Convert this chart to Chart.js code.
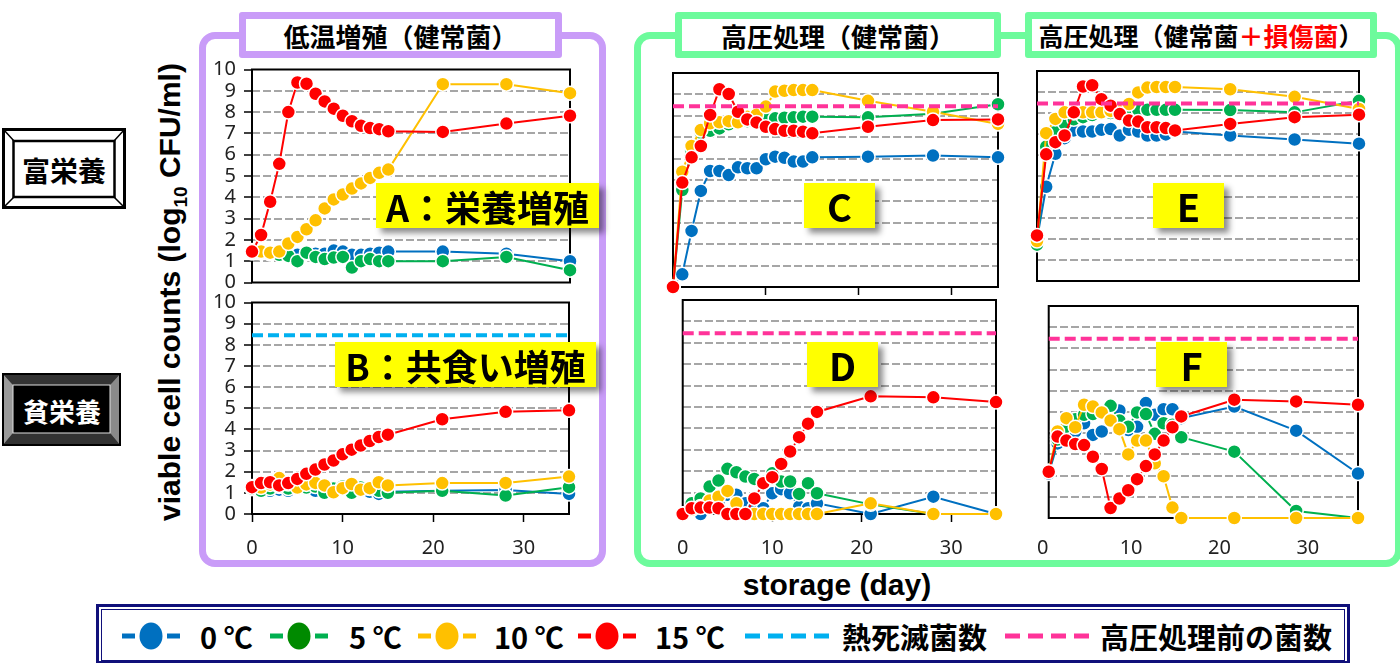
<!DOCTYPE html>
<html>
<head>
<meta charset="utf-8">
<script src="https://cdn.jsdelivr.net/npm/chart.js@4.4.1/dist/chart.umd.min.js"></script>
<style>
  body { margin: 0; width: 1400px; height: 663px; position: relative; overflow: hidden; background: #fff;
         font-family: "Noto Sans CJK JP", "Noto Sans", sans-serif; }
  .frame { position: absolute; border: 7px solid; border-radius: 16px; box-sizing: border-box; }
  .head { position: absolute; border: 7px solid; background: #fff; box-sizing: border-box; border-radius: 3px; white-space: nowrap;
          font-weight: bold; font-size: 26px; display: flex; align-items: center; justify-content: center; color: #000; }
  .tag { position: absolute; z-index: 5; background: #ffff00; box-shadow: 5px 5px 6px rgba(0,0,0,.45);
         font-weight: bold; display: flex; align-items: center; justify-content: center; color: #000; }
  canvas { position: absolute; }
  .title { position: absolute; font-family: "Liberation Sans", Arial, sans-serif; font-weight: bold; font-size: 30px;
           text-align: center; color: #000; white-space: nowrap; }
</style>
</head>
<body>

<!-- group frames and headers -->
<div class="frame" style="left:199px;top:32px;width:407px;height:535px;border-color:#c99cf8"></div>
<div class="frame" style="left:634px;top:32px;width:768px;height:535px;border-color:#6dfb9c"></div>
<div class="head" style="left:239px;top:12px;width:323px;height:46px;border-color:#c99cf8">低温増殖（健常菌）</div>
<div class="head" style="left:675px;top:12px;width:326px;height:46px;border-color:#6dfb9c">高圧処理（健常菌）</div>
<div class="head" style="left:1025px;top:12px;width:352px;height:46px;border-color:#6dfb9c;font-size:25px"><span>高圧処理（健常菌<span style="color:#ff0000">＋損傷菌</span>）</span></div>

<!-- row labels -->
<svg style="position:absolute;left:0;top:0" width="200" height="663">
  <rect x="3.5" y="129.5" width="121" height="78" fill="#fff" stroke="#000" stroke-width="3"/>
  <rect x="13.5" y="141" width="101" height="56" fill="#fff" stroke="#000" stroke-width="2.5"/>
  <path d="M4 130 L14 141 M124 130 L114 141 M4 207 L14 197 M124 207 L114 197" stroke="#000" stroke-width="1.5"/>
  <text x="64" y="170" font-size="28" font-weight="bold" text-anchor="middle" dominant-baseline="central"
        font-family="Noto Sans CJK JP">富栄養</text>

  <rect x="3" y="374" width="117" height="71" fill="#000"/>
  <polygon points="3,374 120,374 110,385 13,385" fill="#333"/>
  <polygon points="3,445 120,445 110,433 13,433" fill="#333"/>
  <polygon points="3,374 13,385 13,433 3,445" fill="#9a9a9a"/>
  <polygon points="120,374 110,385 110,433 120,445" fill="#8a8a8a"/>
  <rect x="13" y="385" width="97" height="48" fill="#000" stroke="#e0e0e0" stroke-width="1"/>
  <rect x="3" y="374" width="117" height="71" fill="none" stroke="#000" stroke-width="2"/>
  <text x="62" y="410" font-size="26" font-weight="bold" text-anchor="middle" dominant-baseline="central"
        fill="#fff" font-family="Noto Sans CJK JP">貧栄養</text>
</svg>

<!-- axis titles -->
<div class="title" style="left:-80px;top:272px;width:500px;height:40px;line-height:40px;transform:rotate(-90deg)">viable cell counts (log<sub style="font-size:19px">10</sub> CFU/ml)</div>
<div class="title" style="left:637px;top:566px;width:400px;height:38px;line-height:38px">storage (day)</div>

<!-- panel tags -->
<div class="tag" style="left:376px;top:183px;width:223px;height:45px;font-size:36px">A：栄養増殖</div>
<div class="tag" style="left:335px;top:342px;width:261px;height:45px;font-size:36px">B：共食い増殖</div>
<div class="tag" style="left:804px;top:183px;width:71px;height:45px;font-size:38px">C</div>
<div class="tag" style="left:807px;top:342px;width:71px;height:45px;font-size:38px">D</div>
<div class="tag" style="left:1153px;top:183px;width:71px;height:45px;font-size:38px">E</div>
<div class="tag" style="left:1156px;top:342px;width:71px;height:45px;font-size:38px">F</div>

<!-- legend -->
<div style="position:absolute;left:96px;top:604px;width:1254px;height:60px;border:3px solid #10107a;box-sizing:border-box"></div>
<div style="position:absolute;left:101px;top:609px;width:1244px;height:52px;border:1px solid #10107a;box-sizing:border-box"></div>
<svg style="position:absolute;left:0;top:600px" width="1400" height="63" font-family="Noto Sans CJK JP" font-weight="bold" font-size="29">
  <g id="legendItems"></g>
</svg>

<script>
// sampling days
const days = [0, 1, 2, 3, 4, 5, 6, 7, 8, 9, 10, 11, 12, 13, 14, 15, 21, 28, 35];

const tempLabels = ["0 ℃", "5 ℃", "10 ℃", "15 ℃"];
const tempColors = ["#0070c0", "#00b050", "#ffc000", "#ff0000"];
const markColors = ["#0070c0", "#008a00", "#ffc000", "#ff0000"];

// A: 富栄養 / 低温増殖
const a0c = [1.4, 1.4, 1.35, 1.35, 1.3, 1.3, 1.35, 1.35, 1.35, 1.5, 1.45, 1.3, 1.3, 1.35, 1.4, 1.45, 1.45, 1.35, 1.0];
const a5c = [1.4, 1.4, 1.35, 1.3, 1.25, 1.0, 1.4, 1.2, 1.1, 1.17, 1.2, 0.7, 1.0, 1.1, 1.0, 1.0, 1.0, 1.2, 0.58];
const a10c = [1.5, 1.45, 1.4, 1.45, 1.83, 2.14, 2.5, 2.92, 3.48, 3.9, 4.13, 4.41, 4.65, 4.91, 5.15, 5.3, 9.31, 9.31, 8.89];
const a15c = [1.45, 2.23, 3.79, 5.57, 8.0, 9.39, 9.33, 8.86, 8.5, 8.16, 7.83, 7.57, 7.36, 7.25, 7.2, 7.1, 7.07, 7.46, 7.83];

// B: 貧栄養 / 低温増殖
const b0c = [1.2, 1.05, 1.1, 1.15, 1.1, 1.2, 1.2, 1.1, 1.1, 1.15, 1.2, 1.1, 1.1, 1.05, 0.95, 1.05, 1.1, 1.14, 0.95];
const b5c = [1.2, 1.1, 1.2, 1.3, 1.2, 1.3, 1.25, 1.3, 1.0, 1.2, 1.3, 1.0, 1.25, 1.2, 1.1, 1.0, 1.1, 0.87, 1.27];
const b10c = [1.3, 1.25, 1.4, 1.7, 1.42, 1.25, 1.4, 1.47, 1.35, 1.03, 1.22, 1.42, 1.15, 1.22, 1.5, 1.35, 1.46, 1.47, 1.77];
const b15c = [1.27, 1.46, 1.5, 1.35, 1.46, 1.66, 1.9, 2.1, 2.34, 2.53, 2.82, 3.04, 3.24, 3.45, 3.64, 3.75, 4.48, 4.83, 4.9];

// C: 富栄養 / 高圧処理（健常菌）
const c0c = [0, 0.59, 2.62, 4.49, 5.42, 5.42, 5.23, 5.59, 5.55, 5.55, 5.97, 6.09, 6.04, 5.86, 5.86, 6.06, 6.09, 6.14, 6.06];
const c5c = [0, 4.53, 6.3, 7.2, 7.3, 7.41, 7.6, 7.7, 7.75, 7.8, 7.88, 7.88, 7.91, 7.93, 7.96, 7.96, 7.93, 8.1, 8.54];
const c10c = [0, 5.39, 6.59, 7.34, 7.65, 7.7, 7.75, 7.7, 7.95, 8.05, 8.43, 9.13, 9.17, 9.2, 9.2, 9.2, 8.7, 8.19, 7.62];
const c15c = [0, 4.88, 6.06, 6.59, 8.04, 9.24, 9.02, 8.19, 7.83, 7.69, 7.49, 7.38, 7.3, 7.3, 7.26, 7.18, 7.49, 7.8, 7.83];

// D: 貧栄養 / 高圧処理（健常菌）
const d0c = [0, 0.3, 0, 0.3, 0.6, 0.9, 0.9, 0.5, 0.3, 0.27, 0.97, 1.16, 0.97, 0.34, 0.27, 0.5, 0, 0.81, 0];
const d5c = [0, 0.5, 0.73, 1.28, 1.56, 2.11, 1.95, 1.75, 1.64, 1.5, 1.9, 1.52, 1.52, 0.94, 1.44, 0.97, 0.45, 0, 0];
const d10c = [0, 0.2, 0.35, 0.63, 0.81, 1.08, 0.5, 0, 0, 0, 0, 0, 0, 0, 0, 0, 0.5, 0, 0];
const d15c = [0, 0.27, 0.3, 0.3, 0.27, 0, 0, 0, 0.73, 1.44, 1.72, 2.34, 2.92, 3.59, 4.22, 4.77, 5.5, 5.45, 5.23];

// E: 富栄養 / 高圧処理（健常菌＋損傷菌）
const e0c = [2.0, 4.49, 6.06, 6.8, 7.17, 7.12, 7.12, 7.2, 7.24, 6.93, 7.2, 7.12, 6.93, 6.93, 6.98, 7.12, 6.93, 6.74, 6.54];
const e5c = [1.73, 6.4, 7.1, 7.5, 7.7, 7.8, 7.9, 8.0, 8.0, 8.0, 8.1, 8.15, 8.15, 8.15, 8.15, 8.15, 8.14, 8.03, 8.58];
const e10c = [1.9, 7.04, 7.72, 8.03, 8.0, 8.03, 8.03, 8.03, 8.1, 8.2, 8.43, 8.98, 9.21, 9.24, 9.24, 9.24, 9.13, 8.77, 8.19];
const e15c = [2.17, 6.03, 6.61, 6.93, 8.03, 9.26, 9.32, 8.66, 8.35, 7.95, 7.64, 7.59, 7.32, 7.32, 7.28, 7.17, 7.48, 7.8, 7.92];

// F: 貧栄養 / 高圧処理（健常菌＋損傷菌）
const f0c = [2.1, 3.52, 4.0, 4.08, 4.47, 3.92, 4.08, 5.1, 5.07, 4.15, 4.3, 5.42, 4.87, 5.13, 5.13, 4.71, 5.26, 4.12, 2.1];
const f5c = [2.2, 3.7, 4.31, 4.66, 4.87, 4.9, 4.98, 5.29, 4.6, 4.31, 4.98, 4.9, 3.97, 4.47, 4.4, 3.81, 3.13, 0.33, 0];
const f10c = [2.2, 4.08, 4.71, 4.28, 5.34, 5.26, 4.98, 4.6, 4.19, 3.0, 3.65, 3.65, 2.58, 1.97, 0.49, 0, 0, 0, 0];
const f15c = [2.18, 3.84, 3.65, 3.49, 3.44, 2.89, 2.31, 0.47, 0.92, 1.31, 1.83, 2.45, 3.0, 3.65, 4.28, 4.79, 5.58, 5.5, 5.34];

// reference levels (dashed lines)
const heatKillLevel = 8.45;   // 熱死滅菌数
const beforeHpLevel = 8.45;   // 高圧処理前の菌数

const panels = [
  { L: 252, T: 69, R: 570, B: 283, yLabels: true, xLabels: false, xTicks: false, series: [a0c, a5c, a10c, a15c] },
  { L: 252, T: 302, R: 569, B: 514, yLabels: true, xLabels: true, xTicks: true, series: [b0c, b5c, b10c, b15c],
    ref: { level: heatKillLevel, color: "#00b0f0" } },
  { L: 673, T: 73, R: 998, B: 287, yLabels: false, xLabels: false, xTicks: true, series: [c0c, c5c, c10c, c15c],
    ref: { level: beforeHpLevel, color: "#ff3399" } },
  { L: 677, T: 300, R: 996, B: 514, yLabels: false, xLabels: true, xTicks: true, series: [d0c, d5c, d10c, d15c],
    ref: { level: beforeHpLevel, color: "#ff3399" } },
  { L: 1037, T: 71, R: 1359, B: 281, yLabels: false, xLabels: false, xTicks: false, series: [e0c, e5c, e10c, e15c],
    ref: { level: beforeHpLevel, color: "#ff3399" } },
  { L: 1039, T: 306, R: 1358, B: 518, yLabels: false, xLabels: true, xTicks: false, series: [f0c, f5c, f10c, f15c],
    ref: { level: beforeHpLevel, color: "#ff3399" }, labelOffset: -6 },
];

// black frame round the plot area, drawn below the markers
const boxPlugin = {
  id: "box",
  beforeDatasetsDraw(chart) {
    const { ctx, chartArea: a } = chart;
    ctx.save();
    ctx.strokeStyle = "#000";
    ctx.lineWidth = 2;
    ctx.strokeRect(a.left, a.top, a.right - a.left, a.bottom - a.top);
    ctx.restore();
  },
};

const tickFont = { family: "'Noto Sans', sans-serif", size: 20 };
// small lineHeight so that all eleven y ticks fit
const yTickFont = { family: "'Noto Sans', sans-serif", size: 20, lineHeight: 0.85 };

function makePanel(p) {
  const padL = p.yLabels ? 62 : 14;
  const padT = 16, padR = 16;
  const padB = p.xLabels ? 50 : 16;
  const w = p.R - p.L + padL + padR;
  const h = p.B - p.T + padT + padB;

  const cv = document.createElement("canvas");
  cv.width = w;
  cv.height = h;
  cv.style.left = p.L - padL + "px";
  cv.style.top = p.T - padT + "px";
  cv.style.width = w + "px";
  cv.style.height = h + "px";
  document.body.appendChild(cv);

  const datasets = p.series.map((vals, k) => ({
    label: tempLabels[k],
    data: days.map((d, i) => ({ x: d, y: vals[i] })),
    borderColor: tempColors[k],
    backgroundColor: tempColors[k],
    borderWidth: 2,
    pointRadius: 7,
    pointBackgroundColor: tempColors[k],
    pointBorderColor: "#fff",
    pointBorderWidth: 1.5,
    clip: false,
    order: 4 - k,
  }));
  if (p.ref) {
    datasets.push({
      label: "ref",
      data: [{ x: 0, y: p.ref.level }, { x: 35, y: p.ref.level }],
      borderColor: p.ref.color,
      borderWidth: 4,
      borderDash: [11, 5],
      pointRadius: 0,
      clip: false,
      order: 0,
    });
  }

  new Chart(cv.getContext("2d"), {
    type: "line",
    data: { datasets },
    plugins: [boxPlugin],
    options: {
      responsive: false,
      animation: false,
      events: [],
      devicePixelRatio: 1,
      layout: { padding: { left: 0, top: padT, right: padR, bottom: 0 } },
      plugins: { legend: { display: false }, tooltip: { enabled: false } },
      scales: {
        x: {
          type: "linear",
          min: 0,
          max: 35,
          afterFit(s) { s.height = padB; },
          border: { display: false },
          grid: { drawOnChartArea: false, drawTicks: p.xTicks, tickLength: 8, tickColor: "#000", tickWidth: 1.5 },
          ticks: {
            display: p.xLabels,
            stepSize: 10,
            includeBounds: false,
            maxRotation: 0,
            padding: p.xTicks ? 14 : 18,
            labelOffset: p.labelOffset || 0,
            color: "#222",
            font: tickFont,
          },
        },
        y: {
          min: 0,
          max: 10,
          afterFit(s) { s.width = padL; },
          border: { display: false, dash: [8, 3] },
          grid: {
            color: (c) => (c.tick.value > 0 && c.tick.value < 10 ? "#a6a6a6" : "rgba(0,0,0,0)"),
            lineWidth: 2,
            drawTicks: p.yLabels,
            tickLength: 8,
            tickColor: "#000",
            tickWidth: 1.5,
          },
          ticks: { display: p.yLabels, stepSize: 1, autoSkip: false, padding: 8, color: "#222", font: yTickFont },
        },
      },
    },
  });
}

panels.forEach(makePanel);

// legend row
const NS = "http://www.w3.org/2000/svg";
const lg = document.getElementById("legendItems");
function svgEl(tag, attrs, text) {
  const el = document.createElementNS(NS, tag);
  for (const k in attrs) el.setAttribute(k, attrs[k]);
  if (text) el.textContent = text;
  lg.appendChild(el);
  return el;
}
const cy = 36;
const sampleX = [122, 270, 418, 578];
const textX = [200, 349, 494, 655];
tempLabels.forEach((lab, k) => {
  const x0 = sampleX[k];
  svgEl("line", { x1: x0, y1: cy, x2: x0 + 13, y2: cy, stroke: tempColors[k], "stroke-width": 5 });
  svgEl("line", { x1: x0 + 45, y1: cy, x2: x0 + 58, y2: cy, stroke: tempColors[k], "stroke-width": 5 });
  svgEl("ellipse", { cx: x0 + 29, cy: cy, rx: 11.5, ry: 13.5, fill: markColors[k] });
  svgEl("text", { x: textX[k], y: cy, "dominant-baseline": "central" }, lab);
});
svgEl("line", { x1: 745, y1: cy, x2: 830, y2: cy, stroke: "#00b0f0", "stroke-width": 5, "stroke-dasharray": "15 8" });
svgEl("text", { x: 842, y: cy, "dominant-baseline": "central" }, "熱死滅菌数");
svgEl("line", { x1: 1005, y1: cy, x2: 1090, y2: cy, stroke: "#ff3399", "stroke-width": 5, "stroke-dasharray": "15 8" });
svgEl("text", { x: 1100, y: cy, "dominant-baseline": "central" }, "高圧処理前の菌数");
</script>
</body>
</html>
